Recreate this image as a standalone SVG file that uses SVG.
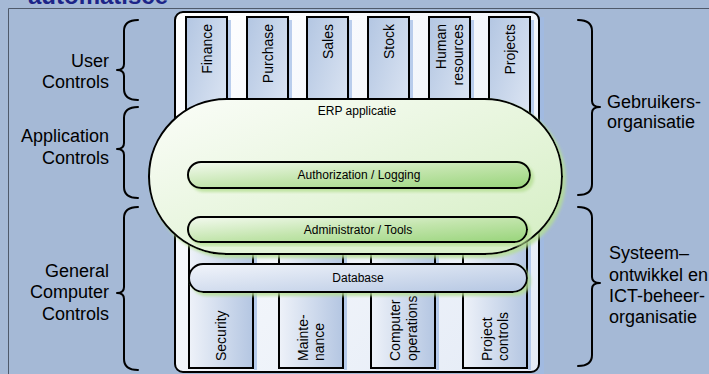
<svg xmlns="http://www.w3.org/2000/svg" width="709" height="374" viewBox="0 0 709 374">
<defs>
<style>
.t{font-family:"Liberation Sans",Arial,sans-serif;fill:#000}
.side{font-size:18px}
.col{font-size:14px}
.in{font-size:12px;text-anchor:middle;dominant-baseline:central}
.brace{fill:none;stroke:#000;stroke-width:2;stroke-linejoin:round;stroke-linecap:round}
.blk{stroke:#000;stroke-width:2}
.sh{fill:#9fbbe6;opacity:0.7}
</style>
<linearGradient id="gBox" x1="0" y1="0" x2="1" y2="1"><stop offset="0" stop-color="#ffffff"/><stop offset="1" stop-color="#e4ebf6"/></linearGradient>
<linearGradient id="gCol" x1="0" y1="0" x2="1" y2="1"><stop offset="0" stop-color="#b3c6e2"/><stop offset="1" stop-color="#e4ebf6"/></linearGradient>
<linearGradient id="gColB" x1="0" y1="0" x2="1" y2="0"><stop offset="0" stop-color="#eef2f9"/><stop offset="1" stop-color="#b4c6e2"/></linearGradient>
<linearGradient id="gErp" x1="0" y1="0" x2="1" y2="1"><stop offset="0" stop-color="#fbfdf9"/><stop offset="1" stop-color="#d4eec2"/></linearGradient>
<linearGradient id="gBar" x1="0" y1="0" x2="1" y2="1"><stop offset="0" stop-color="#f4faf0"/><stop offset="0.5" stop-color="#c3e5ad"/><stop offset="1" stop-color="#98d47a"/></linearGradient>
<linearGradient id="gDb" x1="0" y1="0" x2="1" y2="1"><stop offset="0" stop-color="#f2f5fb"/><stop offset="1" stop-color="#b4c6e2"/></linearGradient>
<filter id="glow" x="-5%" y="-10%" width="115%" height="130%"><feDropShadow dx="3" dy="3" stdDeviation="1.5" flood-color="#b5df93" flood-opacity="0.8"/></filter>
</defs>
<rect x="0" y="0" width="709" height="374" fill="#a5b9d6"/>
<path d="M8.5,374 L8.5,8.5 L709,8.5" fill="none" stroke="#4f5a6b" stroke-width="1"/>
<text class="t" x="28" y="4" style="font-size:24px;font-weight:bold;fill:#1c2488">automatisce</text>

<g id="braces">
<path class="brace" d="M138,20 Q124,20 124,31 L124,64 Q124,70 117,70 Q124,70 124,76 L124,89 Q124,100 138,100"/>
<path class="brace" d="M138,107 Q124,107 124,118 L124,143 Q124,149 117,149 Q124,149 124,155 L124,187 Q124,198 138,198"/>
<path class="brace" d="M138,207 Q124,207 124,218 L124,287 Q124,293 117,293 Q124,293 124,299 L124,359 Q124,370 138,370"/>
<path class="brace" d="M578,20 Q592,20 592,31 L592,101 Q592,107 600,107 Q592,107 592,113 L592,184 Q592,195 578,195"/>
<path class="brace" d="M578,207 Q592,207 592,218 L592,277 Q592,283 600,283 Q592,283 592,289 L592,355 Q592,366 578,366"/>
</g>

<g id="labels-left" class="t side" text-anchor="end">
<text x="109" y="67">User</text><text x="109" y="88">Controls</text>
<text x="109" y="142">Application</text><text x="109" y="164">Controls</text>
<text x="109" y="277">General</text><text x="109" y="298">Computer</text><text x="109" y="320">Controls</text>
</g>
<g id="labels-right" class="t side">
<text x="607" y="108">Gebruikers-</text><text x="607" y="128">organisatie</text>
<text x="609" y="259">Systeem–</text><text x="609" y="281">ontwikkel en</text><text x="609" y="302">ICT-beheer-</text><text x="609" y="323">organisatie</text>
</g>

<g id="frame">
<rect class="sh" x="540" y="17" width="4" height="357"/>
<rect x="175" y="12" width="364" height="360" rx="8" fill="url(#gBox)" class="blk"/>
</g>

<g id="top-modules">
<g id="finance"><rect class="sh" x="228" y="20" width="3" height="140"/><rect x="186" y="17" width="41" height="143" fill="url(#gCol)" class="blk"/><text class="t col" transform="translate(206.5,24) rotate(-90)" text-anchor="end" dominant-baseline="central">Finance</text></g>
<g id="purchase"><rect class="sh" x="289" y="20" width="3" height="140"/><rect x="247" y="17" width="41" height="143" fill="url(#gCol)" class="blk"/><text class="t col" transform="translate(267.5,24) rotate(-90)" text-anchor="end" dominant-baseline="central">Purchase</text></g>
<g id="sales"><rect class="sh" x="349" y="20" width="3" height="140"/><rect x="307" y="17" width="41" height="143" fill="url(#gCol)" class="blk"/><text class="t col" transform="translate(327.5,24) rotate(-90)" text-anchor="end" dominant-baseline="central">Sales</text></g>
<g id="stock"><rect class="sh" x="410" y="20" width="3" height="140"/><rect x="368" y="17" width="41" height="143" fill="url(#gCol)" class="blk"/><text class="t col" transform="translate(388.5,24) rotate(-90)" text-anchor="end" dominant-baseline="central">Stock</text></g>
<g id="hr"><rect class="sh" x="471" y="20" width="3" height="140"/><rect x="429" y="17" width="41" height="143" fill="url(#gCol)" class="blk"/><text class="t col" transform="translate(441,24) rotate(-90)" text-anchor="end" dominant-baseline="central">Human</text><text class="t col" transform="translate(458,24) rotate(-90)" text-anchor="end" dominant-baseline="central">resources</text></g>
<g id="projects"><rect class="sh" x="531" y="20" width="3" height="140"/><rect x="489" y="17" width="41" height="143" fill="url(#gCol)" class="blk"/><text class="t col" transform="translate(509.5,24) rotate(-90)" text-anchor="end" dominant-baseline="central">Projects</text></g>
</g>

<g id="bottom-modules">
<g id="security"><rect class="sh" x="254" y="232" width="3" height="138"/><rect x="189" y="230" width="64" height="138" fill="url(#gColB)" class="blk"/><text class="t col" transform="translate(221,361) rotate(-90)" dominant-baseline="central">Security</text></g>
<g id="maintenance"><rect class="sh" x="344" y="232" width="3" height="138"/><rect x="279" y="230" width="64" height="138" fill="url(#gColB)" class="blk"/><text class="t col" transform="translate(303,361) rotate(-90)" dominant-baseline="central">Mainte-</text><text class="t col" transform="translate(319,361) rotate(-90)" dominant-baseline="central">nance</text></g>
<g id="operations"><rect class="sh" x="436" y="232" width="3" height="138"/><rect x="371" y="230" width="64" height="138" fill="url(#gColB)" class="blk"/><text class="t col" transform="translate(395,361) rotate(-90)" dominant-baseline="central">Computer</text><text class="t col" transform="translate(412,361) rotate(-90)" dominant-baseline="central">operations</text></g>
<g id="projectcontrols"><rect class="sh" x="528" y="232" width="3" height="138"/><rect x="463" y="230" width="64" height="138" fill="url(#gColB)" class="blk"/><text class="t col" transform="translate(487,361) rotate(-90)" dominant-baseline="central">Project</text><text class="t col" transform="translate(503,361) rotate(-90)" dominant-baseline="central">controls</text></g>
</g>

<g id="erp">
<rect x="149" y="99" width="413" height="155" rx="77.5" fill="url(#gErp)" class="blk" filter="url(#glow)"/>
<text class="t in" x="357" y="111">ERP applicatie</text>
</g>
<g id="authorization">
<rect x="188" y="162" width="342" height="26" rx="13" fill="url(#gBar)" class="blk" filter="url(#glow)"/>
<text class="t in" x="359" y="175">Authorization / Logging</text>
</g>
<g id="administrator">
<rect x="188" y="217" width="339" height="25" rx="12.5" fill="url(#gBar)" class="blk" filter="url(#glow)"/>
<text class="t in" x="358" y="229.5">Administrator / Tools</text>
</g>
<g id="database">
<rect x="189" y="264" width="338" height="28" rx="14" fill="url(#gDb)" class="blk" filter="url(#glow)"/>
<text class="t in" x="358" y="278">Database</text>
</g>
</svg>
